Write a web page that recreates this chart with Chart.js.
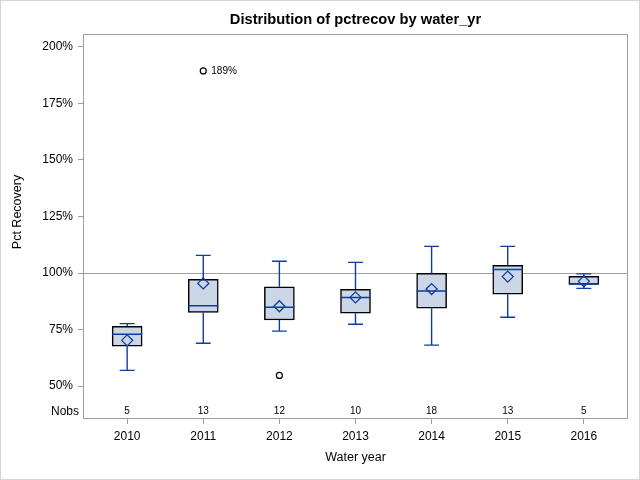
<!DOCTYPE html>
<html>
<head>
<meta charset="utf-8">
<script src="https://cdn.jsdelivr.net/npm/chart.js@4.4.0/dist/chart.umd.min.js"></script>
<style>
  html, body { margin: 0; padding: 0; background: #fff; }
</style>
</head>
<body>
<canvas id="box" width="640" height="480"></canvas>
<script>
// box plot stats (percent)
var YEARS     = [2010, 2011, 2012, 2013, 2014, 2015, 2016];
var NOBS      = [5, 13, 12, 10, 18, 13, 5];
var WHISK_LO  = [56.9, 68.9, 74.3, 77.3, 68.1, 80.4, 93.2];
var Q1        = [67.6, 82.6, 79.2, 82.2, 84.4, 90.6, 95.0];
var MEDIAN    = [72.9, 85.5, 84.8, 89.2, 92.0, 101.6, 95.1];
var Q3        = [76.4, 97.2, 93.9, 92.8, 99.8, 103.4, 98.5];
var WHISK_HI  = [77.6, 107.8, 105.2, 104.7, 111.8, 111.8, 99.6];
var MEAN      = [70.2, 95.4, 85.3, 89.2, 92.9, 98.4, 96.3];
var OUT_X     = [2011, 2012];
var OUT_Y     = [189.4, 54.7];
var OUT_LABEL = ['189%', ''];
var Y_TICKS   = [50, 75, 100, 125, 150, 175, 200];
var REF_VALUE = 100;

var FONT = 'Liberation Sans, Arial, sans-serif';
var BLUE = '#0d3d9e';
var FRAME = '#9c9c9c';
var CAP_HALF = 0.098;   // half width of whisker caps, x units
var BOX_HALF = 0.197;   // half width of box (30px bar)

// whisker segments, broken by null y
var whiskerPts = [];
var medianPts = [];
YEARS.forEach(function(yr, i) {
  whiskerPts.push({x: yr, y: WHISK_LO[i]}, {x: yr, y: Q1[i]}, {x: yr, y: null});
  whiskerPts.push({x: yr, y: Q3[i]}, {x: yr, y: WHISK_HI[i]}, {x: yr, y: null});
  whiskerPts.push({x: yr - CAP_HALF, y: WHISK_LO[i]}, {x: yr + CAP_HALF, y: WHISK_LO[i]}, {x: yr, y: null});
  whiskerPts.push({x: yr - CAP_HALF, y: WHISK_HI[i]}, {x: yr + CAP_HALF, y: WHISK_HI[i]}, {x: yr, y: null});
  medianPts.push({x: yr - BOX_HALF, y: MEDIAN[i]}, {x: yr + BOX_HALF, y: MEDIAN[i]}, {x: yr, y: null});
});

var boxExtras = {
  id: 'boxExtras',
  beforeDatasetsDraw: function(chart) {
    var ctx = chart.ctx, a = chart.chartArea;
    var y = Math.round(chart.scales.y.getPixelForValue(REF_VALUE)) + 0.5;
    ctx.save();
    ctx.strokeStyle = '#a0a0a0';
    ctx.lineWidth = 1;
    ctx.beginPath();
    ctx.moveTo(a.left, y);
    ctx.lineTo(a.right, y);
    ctx.stroke();
    ctx.restore();
  },
  afterDraw: function(chart) {
    var ctx = chart.ctx, a = chart.chartArea;
    var xs = chart.scales.x, ys = chart.scales.y;
    ctx.save();
    // outer border
    ctx.strokeStyle = '#d4d4d4';
    ctx.lineWidth = 1;
    ctx.strokeRect(0.5, 0.5, chart.width - 1, chart.height - 1);
    // plot frame
    ctx.strokeStyle = FRAME;
    ctx.strokeRect(Math.round(a.left) + 0.5, Math.round(a.top) + 0.5,
      Math.round(a.right - a.left) - 1, Math.round(a.bottom - a.top) - 1);

    ctx.fillStyle = '#000';
    ctx.textBaseline = 'middle';
    ctx.textAlign = 'center';
    ctx.font = 'bold 14.7px ' + FONT;
    ctx.fillText('Distribution of pctrecov by water_yr', (a.left + a.right) / 2, 20);

    ctx.font = '12.5px ' + FONT;
    ctx.fillText('Water year', (a.left + a.right) / 2, 458);

    ctx.save();
    ctx.translate(18, 212);
    ctx.rotate(-Math.PI / 2);
    ctx.fillText('Pct Recovery', 0, 0);
    ctx.restore();

    // Nobs row
    var ny = a.bottom - 7.5;
    ctx.font = '12px ' + FONT;
    ctx.textAlign = 'right';
    ctx.fillText('Nobs', a.left - 4, ny);
    ctx.textAlign = 'center';
    ctx.font = '10px ' + FONT;
    YEARS.forEach(function(yr, i) {
      ctx.fillText(String(NOBS[i]), xs.getPixelForValue(yr), ny);
    });

    // outlier labels
    ctx.textAlign = 'left';
    OUT_X.forEach(function(x, i) {
      if (!OUT_LABEL[i]) return;
      ctx.fillText(OUT_LABEL[i], xs.getPixelForValue(x) + 8, ys.getPixelForValue(OUT_Y[i]));
    });
    ctx.restore();
  }
};

new Chart(document.getElementById('box'), {
  type: 'scatter',
  data: {
    datasets: [
      {
        type: 'bar',
        data: YEARS.map(function(yr, i) { return {x: yr, y: [Q1[i], Q3[i]]}; }),
        backgroundColor: '#cbd6e6',
        borderColor: '#000',
        borderWidth: 1.5,
        borderSkipped: false,
        barThickness: 30,
        order: 4
      },
      {
        data: whiskerPts,
        showLine: true,
        spanGaps: false,
        borderColor: BLUE,
        borderWidth: 1.4,
        pointRadius: 0,
        order: 3
      },
      {
        data: medianPts,
        showLine: true,
        spanGaps: false,
        borderColor: BLUE,
        borderWidth: 1.5,
        pointRadius: 0,
        order: 2
      },
      {
        data: YEARS.map(function(yr, i) { return {x: yr, y: MEAN[i]}; }),
        pointStyle: 'rectRot',
        pointRadius: 5.5,
        borderColor: BLUE,
        backgroundColor: 'rgba(0,0,0,0)',
        borderWidth: 1.3,
        order: 1
      },
      {
        data: OUT_X.map(function(x, i) { return {x: x, y: OUT_Y[i]}; }),
        pointStyle: 'circle',
        pointRadius: 3,
        borderColor: '#000',
        backgroundColor: 'rgba(0,0,0,0)',
        borderWidth: 1.2,
        order: 0
      }
    ]
  },
  options: {
    responsive: false,
    animation: false,
    layout: { padding: { top: 34, right: 12, left: 0, bottom: 0 } },
    plugins: {
      legend: { display: false },
      tooltip: { enabled: false },
      title: { display: false }
    },
    scales: {
      x: {
        type: 'linear',
        min: 2009.42,
        max: 2016.58,
        offset: false,
        afterBuildTicks: function(s) { s.ticks = YEARS.map(function(v) { return {value: v}; }); },
        afterFit: function(s) { s.height = 61; },
        ticks: {
          autoSkip: false,
          maxRotation: 0,
          padding: 5,
          color: '#000',
          font: { family: FONT, size: 12 },
          callback: function(v) { return String(v); }
        },
        grid: { drawOnChartArea: false, tickLength: 5, color: FRAME, offset: false },
        border: { display: false }
      },
      y: {
        min: 35.4,
        max: 205.75,
        afterBuildTicks: function(s) { s.ticks = Y_TICKS.map(function(v) { return {value: v}; }); },
        afterFit: function(s) { s.width = 83; },
        ticks: {
          padding: 5,
          color: '#000',
          font: { family: FONT, size: 12 },
          callback: function(v) { return v + '%'; }
        },
        grid: { drawOnChartArea: false, tickLength: 5, color: FRAME },
        border: { display: false }
      }
    }
  },
  plugins: [boxExtras]
});
</script>
</body>
</html>
